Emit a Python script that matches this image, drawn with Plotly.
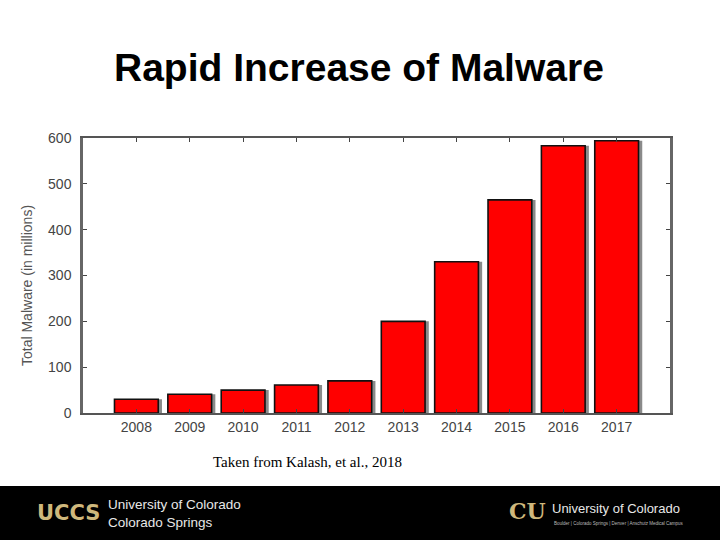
import plotly.graph_objects as go

years = ["2008", "2009", "2010", "2011", "2012", "2013", "2014", "2015", "2016", "2017"]
malware_millions = [30, 41, 50, 61, 70, 200, 330, 465, 583, 594]
y_ticks = [0, 100, 200, 300, 400, 500, 600]

W, H = 720, 540
L, R, T, B = 83, 670, 138, 413  # plot area in pixels


def px(x):
    return (x - L) / (R - L)


def py(y):
    return (B - y) / (B - T)


idx = list(range(len(years)))

fig = go.Figure()
# shadow
fig.add_trace(go.Bar(
    x=idx, y=malware_millions, width=0.82, offset=-0.41 + 0.07,
    marker=dict(color="#8a8a8a", line=dict(width=0)),
    hoverinfo="skip", showlegend=False,
))
fig.add_trace(go.Bar(
    x=idx, y=malware_millions, width=0.82, offset=-0.41,
    marker=dict(color="#ff0000", line=dict(color="#111111", width=1.6)),
    showlegend=False,
))

fig.update_layout(
    width=W, height=H,
    margin=dict(l=L, r=W - R, t=T, b=H - B),
    paper_bgcolor="white", plot_bgcolor="white",
    barmode="overlay",
    font=dict(family="Liberation Sans, Arial, sans-serif", color="#333"),
    xaxis=dict(
        range=[-1.0, 10.0], tickvals=idx, ticktext=years,
        ticks="inside", ticklen=4, tickcolor="#444", mirror="ticks",
        showline=True, linecolor="#555", linewidth=2,
        showgrid=False, zeroline=False,
        tickfont=dict(size=14, color="#444"),
    ),
    yaxis=dict(
        range=[0, 600], tickvals=y_ticks, ticks="inside", ticklen=4,
        tickcolor="#444", mirror="ticks",
        showline=True, linecolor="#666", linewidth=2.5,
        showgrid=False, zeroline=False, ticklabelstandoff=6,
        tickfont=dict(size=14, color="#444"),
    ),
)

fig.add_annotation(
    text="Total Malware (in millions)", xref="paper", yref="paper",
    x=px(27), y=py(286), textangle=-90, showarrow=False,
    xanchor="center", yanchor="middle",
    font=dict(family="Liberation Sans, Arial, sans-serif", size=14, color="#555"),
)
fig.add_annotation(
    text="<b>Rapid Increase of Malware</b>", xref="paper", yref="paper",
    x=px(359), y=py(68), showarrow=False, xanchor="center", yanchor="middle",
    font=dict(family="Liberation Sans, Arial, sans-serif", size=39, color="black"),
)
fig.add_annotation(
    text="Taken from Kalash, et al., 2018", xref="paper", yref="paper",
    x=px(211), y=py(462), showarrow=False, xanchor="left", yanchor="middle",
    font=dict(family="Liberation Serif, Times New Roman, serif", size=15, color="black"),
)

# footer band
fig.add_shape(type="rect", xref="paper", yref="paper",
              x0=px(-2), x1=px(W + 2), y0=py(486), y1=py(H + 2),
              fillcolor="black", line=dict(width=0), layer="above")

gold = "#cfb87c"
fig.add_annotation(
    text="<b>UCCS</b>", xref="paper", yref="paper", x=px(35), y=py(513),
    showarrow=False, xanchor="left", yanchor="middle",
    font=dict(family="DejaVu Sans, sans-serif", size=21, color=gold),
)
fig.add_annotation(
    text="University of Colorado<br>Colorado Springs", xref="paper", yref="paper",
    x=px(106), y=py(513), showarrow=False, xanchor="left", yanchor="middle", align="left",
    font=dict(family="Liberation Sans, Arial, sans-serif", size=13.5, color="#e8e8e8"),
)
fig.add_annotation(
    text="<b>CU</b>", xref="paper", yref="paper", x=px(527), y=py(511),
    showarrow=False, xanchor="center", yanchor="middle",
    font=dict(family="DejaVu Serif, serif", size=22, color=gold),
)
fig.add_annotation(
    text="University of Colorado", xref="paper", yref="paper",
    x=px(550), y=py(508), showarrow=False, xanchor="left", yanchor="middle",
    font=dict(family="Liberation Sans, Arial, sans-serif", size=13, color="#e8e8e8"),
)
fig.add_annotation(
    text="Boulder | Colorado Springs | Denver | Anschutz Medical Campus", xref="paper", yref="paper",
    x=px(552), y=py(523), showarrow=False, xanchor="left", yanchor="middle",
    font=dict(family="Liberation Sans, Arial, sans-serif", size=4.5, color="#bbbbbb"),
)

fig.write_html(
    "out.html",
    config={"displayModeBar": False},
    post_script="document.body.style.margin='0';document.body.style.overflow='hidden';",
)
